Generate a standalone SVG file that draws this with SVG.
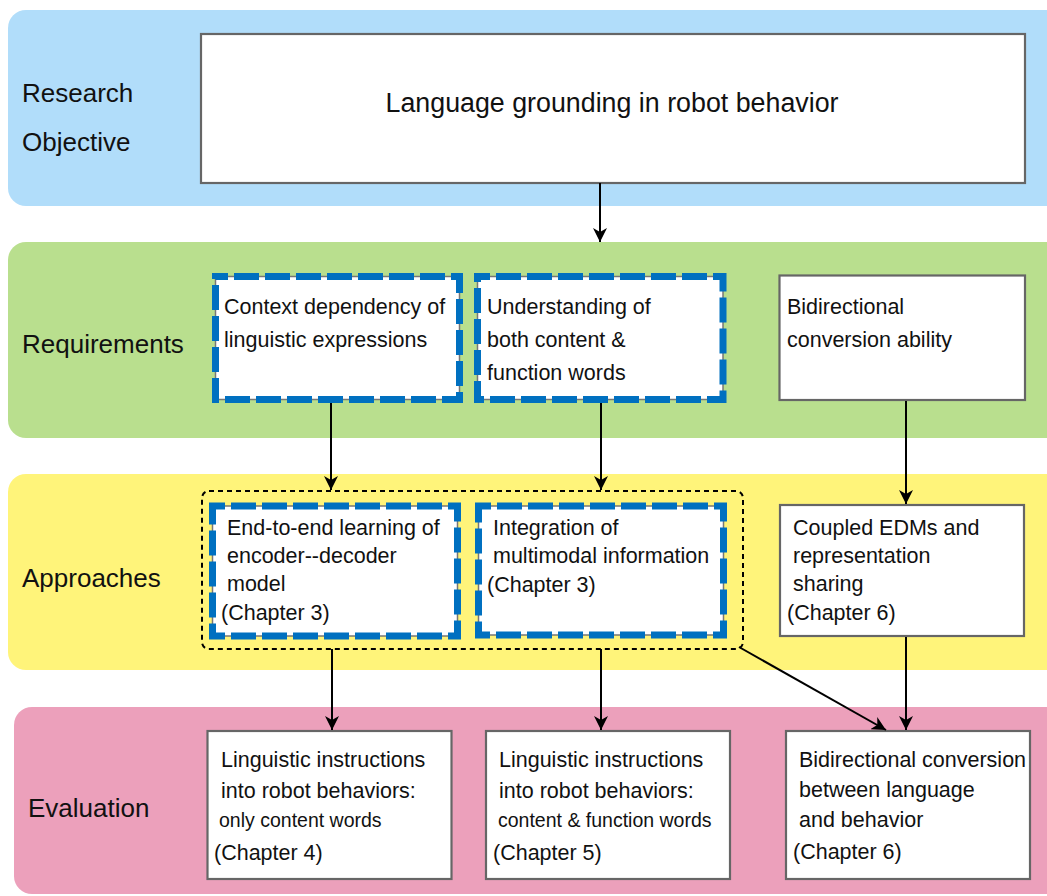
<svg xmlns="http://www.w3.org/2000/svg" width="1047" height="896" viewBox="0 0 1047 896">
  <defs>
    <style>
      .band-label { font-family: "Liberation Sans", Arial, sans-serif; font-size: 26px; fill: #111; }
      .t { font-family: "Liberation Sans", Arial, sans-serif; font-size: 21.5px; fill: #111; }
      .ts { font-family: "Liberation Sans", Arial, sans-serif; font-size: 19.5px; fill: #111; }
      .title { font-family: "Liberation Sans", Arial, sans-serif; font-size: 26.8px; fill: #111; }
      .box { fill: #ffffff; stroke: #666666; stroke-width: 2.2; }
      .dash-base { fill: #ffffff; stroke: #777777; stroke-width: 1.5; }
      .dash-blue { fill: none; stroke: #0070c0; stroke-width: 7; stroke-dasharray: 25 6; stroke-dashoffset: 12.5; }
      .group-outline { fill: none; stroke: #000000; stroke-width: 2; stroke-dasharray: 5 4; }
      .edge { fill: none; stroke: #000000; stroke-width: 2; }
    </style>
    <marker id="arrow" viewBox="-14 -7 15 14" refX="0" refY="0" markerWidth="15" markerHeight="14" markerUnits="userSpaceOnUse" orient="auto">
      <path d="M0,0 L-14,-7 L-10,0 L-14,7 Z" fill="#000000"/>
    </marker>
  </defs>

  <!-- horizontal bands -->
  <g id="bands">
    <rect id="band-objective" x="8" y="10" width="1060" height="196" rx="18" fill="#b1ddfa"/>
    <rect id="band-requirements" x="8" y="242" width="1060" height="196" rx="18" fill="#b9df8e"/>
    <rect id="band-approaches" x="8" y="474" width="1060" height="196" rx="18" fill="#fff47a"/>
    <rect id="band-evaluation" x="14" y="707" width="1060" height="187" rx="18" fill="#eca0bb"/>
  </g>

  <!-- band labels -->
  <g id="labels">
    <text class="band-label" x="22" y="102">Research</text>
    <text class="band-label" x="22" y="151">Objective</text>
    <text class="band-label" x="22" y="353">Requirements</text>
    <text class="band-label" x="22" y="587">Approaches</text>
    <text class="band-label" x="28" y="817">Evaluation</text>
  </g>

  <!-- research objective -->
  <g id="objective">
    <rect class="box" x="201" y="34" width="824" height="149"/>
    <text class="title" x="612" y="112" text-anchor="middle">Language grounding in robot behavior</text>
  </g>

  <!-- requirements -->
  <g id="req-context">
    <rect class="dash-base" x="215.5" y="276.5" width="244" height="123"/>
    <rect class="dash-blue" x="215.5" y="276.5" width="244" height="123"/>
    <text class="t" x="224" y="314">Context dependency of</text>
    <text class="t" x="224" y="347">linguistic expressions</text>
  </g>
  <g id="req-words">
    <rect class="dash-base" x="477.5" y="276.5" width="245.5" height="123"/>
    <rect class="dash-blue" x="477.5" y="276.5" width="245.5" height="123"/>
    <text class="t" x="487" y="314">Understanding of</text>
    <text class="t" x="487" y="347">both content &amp;</text>
    <text class="t" x="487" y="380">function words</text>
  </g>
  <g id="req-bidirectional">
    <rect class="box" x="779.5" y="275.5" width="245.5" height="124.5"/>
    <text class="t" x="787" y="314">Bidirectional</text>
    <text class="t" x="787" y="347">conversion ability</text>
  </g>

  <!-- approaches -->
  <g id="approach-group">
    <rect class="group-outline" x="202" y="491" width="541" height="158" rx="7"/>
  </g>
  <g id="app-e2e">
    <rect class="dash-base" x="212.5" y="506" width="245" height="130"/>
    <rect class="dash-blue" x="212.5" y="506" width="245" height="130"/>
    <text class="t" x="227" y="535">End-to-end learning of</text>
    <text class="t" x="227" y="563">encoder--decoder</text>
    <text class="t" x="227" y="591">model</text>
    <text class="t" x="221" y="620">(Chapter 3)</text>
  </g>
  <g id="app-multimodal">
    <rect class="dash-base" x="478.5" y="506" width="245" height="129"/>
    <rect class="dash-blue" x="478.5" y="506" width="245" height="129"/>
    <text class="t" x="493" y="535">Integration of</text>
    <text class="t" x="493" y="563">multimodal information</text>
    <text class="t" x="487" y="592">(Chapter 3)</text>
  </g>
  <g id="app-coupled">
    <rect class="box" x="780" y="505" width="244" height="131"/>
    <text class="t" x="793" y="535">Coupled EDMs and</text>
    <text class="t" x="793" y="563">representation</text>
    <text class="t" x="793" y="591">sharing</text>
    <text class="t" x="787" y="620">(Chapter 6)</text>
  </g>

  <!-- evaluation -->
  <g id="eval-content">
    <rect class="box" x="207.5" y="731" width="244" height="148"/>
    <text class="t" x="221" y="767">Linguistic instructions</text>
    <text class="t" x="221" y="798">into robot behaviors:</text>
    <text class="ts" x="219" y="827">only content words</text>
    <text class="t" x="214" y="860">(Chapter 4)</text>
  </g>
  <g id="eval-function">
    <rect class="box" x="486" y="731" width="244" height="148"/>
    <text class="t" x="499" y="767">Linguistic instructions</text>
    <text class="t" x="499" y="798">into robot behaviors:</text>
    <text class="ts" x="498" y="827">content &amp; function words</text>
    <text class="t" x="493" y="860">(Chapter 5)</text>
  </g>
  <g id="eval-bidirectional">
    <rect class="box" x="786" y="731" width="244" height="148"/>
    <text class="t" x="799" y="767">Bidirectional conversion</text>
    <text class="t" x="799" y="797">between language</text>
    <text class="t" x="799" y="827">and behavior</text>
    <text class="t" x="793" y="859">(Chapter 6)</text>
  </g>

  <!-- connectors -->
  <g id="connectors">
    <path class="edge" d="M600,183 L600,242" marker-end="url(#arrow)"/>
    <path class="edge" d="M331,403 L331,490" marker-end="url(#arrow)"/>
    <path class="edge" d="M601,403 L601,490" marker-end="url(#arrow)"/>
    <path class="edge" d="M906,401 L906,504" marker-end="url(#arrow)"/>
    <path class="edge" d="M332,649 L332,730" marker-end="url(#arrow)"/>
    <path class="edge" d="M601,649 L601,730" marker-end="url(#arrow)"/>
    <path class="edge" d="M906,637 L906,730" marker-end="url(#arrow)"/>
    <path class="edge" d="M739,647 L886,730" marker-end="url(#arrow)"/>
  </g>
</svg>
